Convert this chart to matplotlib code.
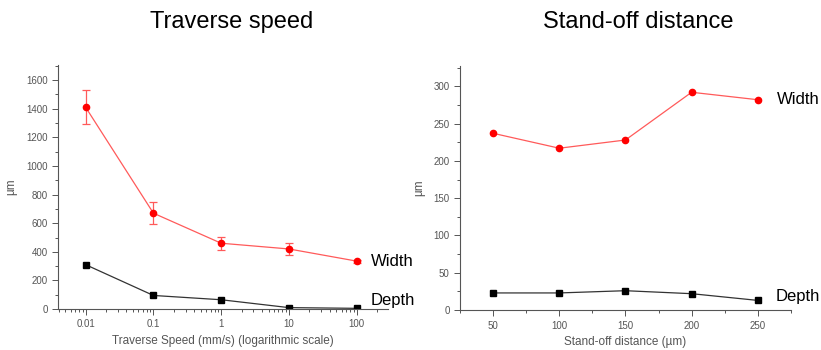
import matplotlib
matplotlib.use("Agg")
import matplotlib.pyplot as plt
from matplotlib.ticker import MultipleLocator, LogLocator, NullFormatter, FixedLocator, FixedFormatter

plt.rcParams['font.family'] = ['Liberation Sans', 'DejaVu Sans']

speed = [0.01, 0.1, 1, 10, 100]
speed_width = [1410, 670, 460, 420, 335]
speed_width_err = [120, 75, 45, 40, 10]
speed_depth = [310, 95, 65, 10, 5]

standoff = [50, 100, 150, 200, 250]
standoff_width = [237, 217, 228, 292, 282]
standoff_depth = [23, 23, 26, 22, 13]

RED_LINE = '#ff5a5a'
RED = '#ff0000'
GREY_TXT = '#555555'
AX = '#555555'

fig = plt.figure(figsize=(8.21, 3.5), dpi=100)
ax1 = fig.add_axes([0.0706, 0.117, 0.402, 0.697])
ax2 = fig.add_axes([0.5603, 0.114, 0.403, 0.697])

def style(ax):
    for s in ['top', 'right']:
        ax.spines[s].set_visible(False)
    for s in ['left', 'bottom']:
        ax.spines[s].set_color(AX)
        ax.spines[s].set_linewidth(0.8)
    ax.tick_params(which='both', direction='out', colors=AX, labelcolor=GREY_TXT, labelsize=7, width=0.7)
    ax.tick_params(which='major', length=4)
    ax.tick_params(which='minor', length=2.5)

# Left
ax1.set_xscale('log')
ax1.errorbar(speed, speed_width, yerr=speed_width_err, color=RED_LINE, lw=0.9,
             marker='o', ms=4.5, mfc=RED, mec=RED, ecolor=RED_LINE, elinewidth=0.9, capsize=3, capthick=0.9)
ax1.plot(speed, speed_depth, color='#333333', lw=0.9, marker='s', ms=4, mfc='black', mec='black')
ax1.set_xlim(0.0039, 290)
ax1.set_ylim(0, 1705)
ax1.xaxis.set_major_locator(FixedLocator(speed))
ax1.xaxis.set_major_formatter(FixedFormatter(['0.01', '0.1', '1', '10', '100']))
ax1.xaxis.set_minor_locator(LogLocator(base=10, subs=range(2, 10), numticks=20))
ax1.xaxis.set_minor_formatter(NullFormatter())
ax1.yaxis.set_major_locator(MultipleLocator(200))
ax1.yaxis.set_minor_locator(MultipleLocator(100))
style(ax1)
ax1.set_xlabel('Traverse Speed (mm/s) (logarithmic scale)', fontsize=8.5, color=GREY_TXT, labelpad=4)
ax1.set_ylabel('µm', fontsize=8.5, color=GREY_TXT, labelpad=6)
fig.text(232/821, 1 - 22/350, 'Traverse speed', fontsize=17, color='black', ha='center', va='center')
fig.text(371/821, 1 - 262/350, 'Width', fontsize=12, va='center', ha='left')
fig.text(371/821, 1 - 300/350, 'Depth', fontsize=12, va='center', ha='left')

# Right
ax2.plot(standoff, standoff_width, color=RED_LINE, lw=0.9, marker='o', ms=4.5, mfc=RED, mec=RED)
ax2.plot(standoff, standoff_depth, color='#333333', lw=0.9, marker='s', ms=4, mfc='black', mec='black')
ax2.set_xlim(25, 275)
ax2.set_ylim(0, 327)
ax2.xaxis.set_major_locator(FixedLocator(standoff))
ax2.xaxis.set_minor_locator(MultipleLocator(25))
ax2.yaxis.set_major_locator(MultipleLocator(50))
ax2.yaxis.set_minor_locator(MultipleLocator(25))
style(ax2)
ax2.set_xlabel('Stand-off distance (µm)', fontsize=8.5, color=GREY_TXT, labelpad=4)
ax2.set_ylabel('µm', fontsize=8.5, color=GREY_TXT, labelpad=6)
fig.text(638/821, 1 - 22/350, 'Stand-off distance', fontsize=17, color='black', ha='center', va='center')
fig.text(777/821, 1 - 99/350, 'Width', fontsize=12, va='center', ha='left')
fig.text(776/821, 1 - 296/350, 'Depth', fontsize=12, va='center', ha='left')

fig.savefig('out.png', dpi=100)
